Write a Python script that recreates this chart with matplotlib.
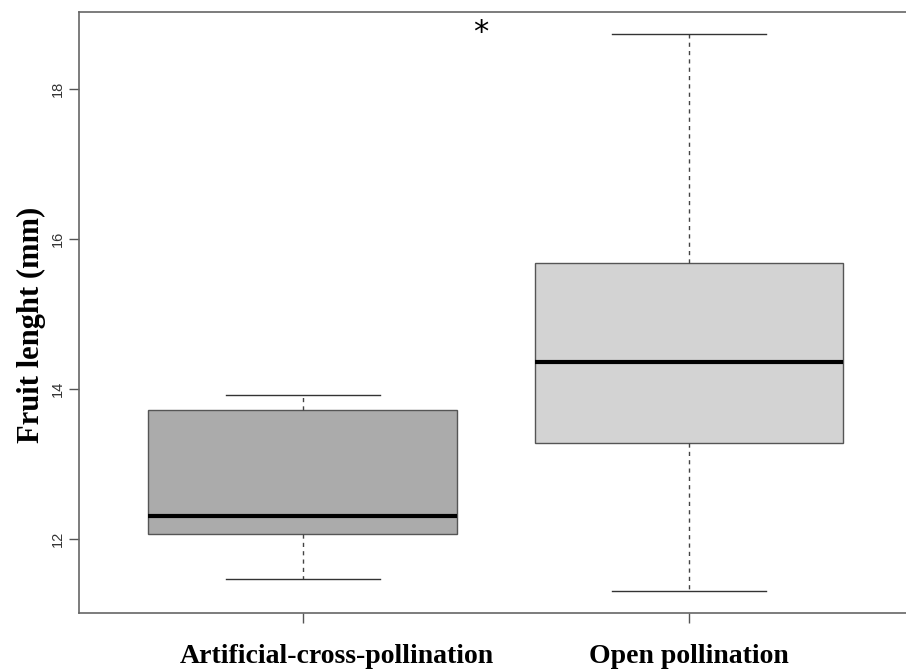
import matplotlib
matplotlib.use("Agg")
import matplotlib.pyplot as plt
from matplotlib.transforms import ScaledTranslation

# ---- data ----
groups = ["Artificial-cross-pollination", "Open pollination"]
whislo = [11.47, 11.31]
q1     = [12.06, 13.28]
median = [12.31, 14.36]
q3     = [13.72, 15.68]
whishi = [13.92, 18.73]
fills  = ["#ABABAB", "#D3D3D3"]
yticks = [12, 14, 16, 18]
star_pos = (1.46, 18.76)

stats = [dict(label=g, whislo=lo, q1=a, med=m, q3=b, whishi=hi)
         for g, lo, a, m, b, hi in zip(groups, whislo, q1, median, q3, whishi)]

fig = plt.figure(figsize=(9.06, 6.70), dpi=100)
# axes right edge runs past the canvas (cropped like the original)
ax = fig.add_axes([79/906, 57/670, 834/906, 601/670])

edge = "#555555"
bp = ax.bxp(stats, positions=[1, 2], widths=0.8, capwidths=0.4,
            showfliers=False, patch_artist=True,
            boxprops=dict(edgecolor=edge, linewidth=1.0),
            whiskerprops=dict(color="#444444", linewidth=1.0, linestyle=(0, (3, 3))),
            capprops=dict(color="#333333", linewidth=1.0),
            medianprops=dict(color="black", linewidth=3.0, solid_capstyle="butt"))
for patch, c in zip(bp["boxes"], fills):
    patch.set_facecolor(c)

# R-style axis ranges: +4% padding
lo, hi = min(whislo), max(whishi)
pad = 0.04 * (hi - lo)
ax.set_ylim(lo - pad, hi + pad)
ax.set_xlim(0.5 - 0.08, 2.5 + 0.08)

ax.set_yticks(yticks)
ax.set_yticklabels([str(t) for t in yticks], rotation=90, va="center",
                   fontsize=10.5, family="Liberation Sans", color="#333333")
ax.set_xticks([1, 2])
ax.set_xticklabels(groups, fontsize=20, family="Liberation Serif",
                   fontweight="bold")
ax.tick_params(axis="y", length=7, width=1, color="#555555", pad=3)
ax.tick_params(axis="x", length=7, width=1, color="#555555", pad=15)
# first group label sits a bit right of its tick in the original
lbl = ax.get_xticklabels()[0]
lbl.set_transform(lbl.get_transform() + ScaledTranslation(0.34, 0, fig.dpi_scale_trans))
for s in ax.spines.values():
    s.set_color("#666666")
    s.set_linewidth(1.2)

fig.text(31/906, 1 - 325/670, "Fruit lenght (mm)", rotation=90,
         ha="center", va="center", fontsize=22, family="Liberation Serif",
         fontweight="bold")

ax.text(star_pos[0], star_pos[1], "*", ha="center", va="center",
        fontsize=22, family="DejaVu Sans")

fig.savefig("out.png", dpi=100, facecolor="white")
